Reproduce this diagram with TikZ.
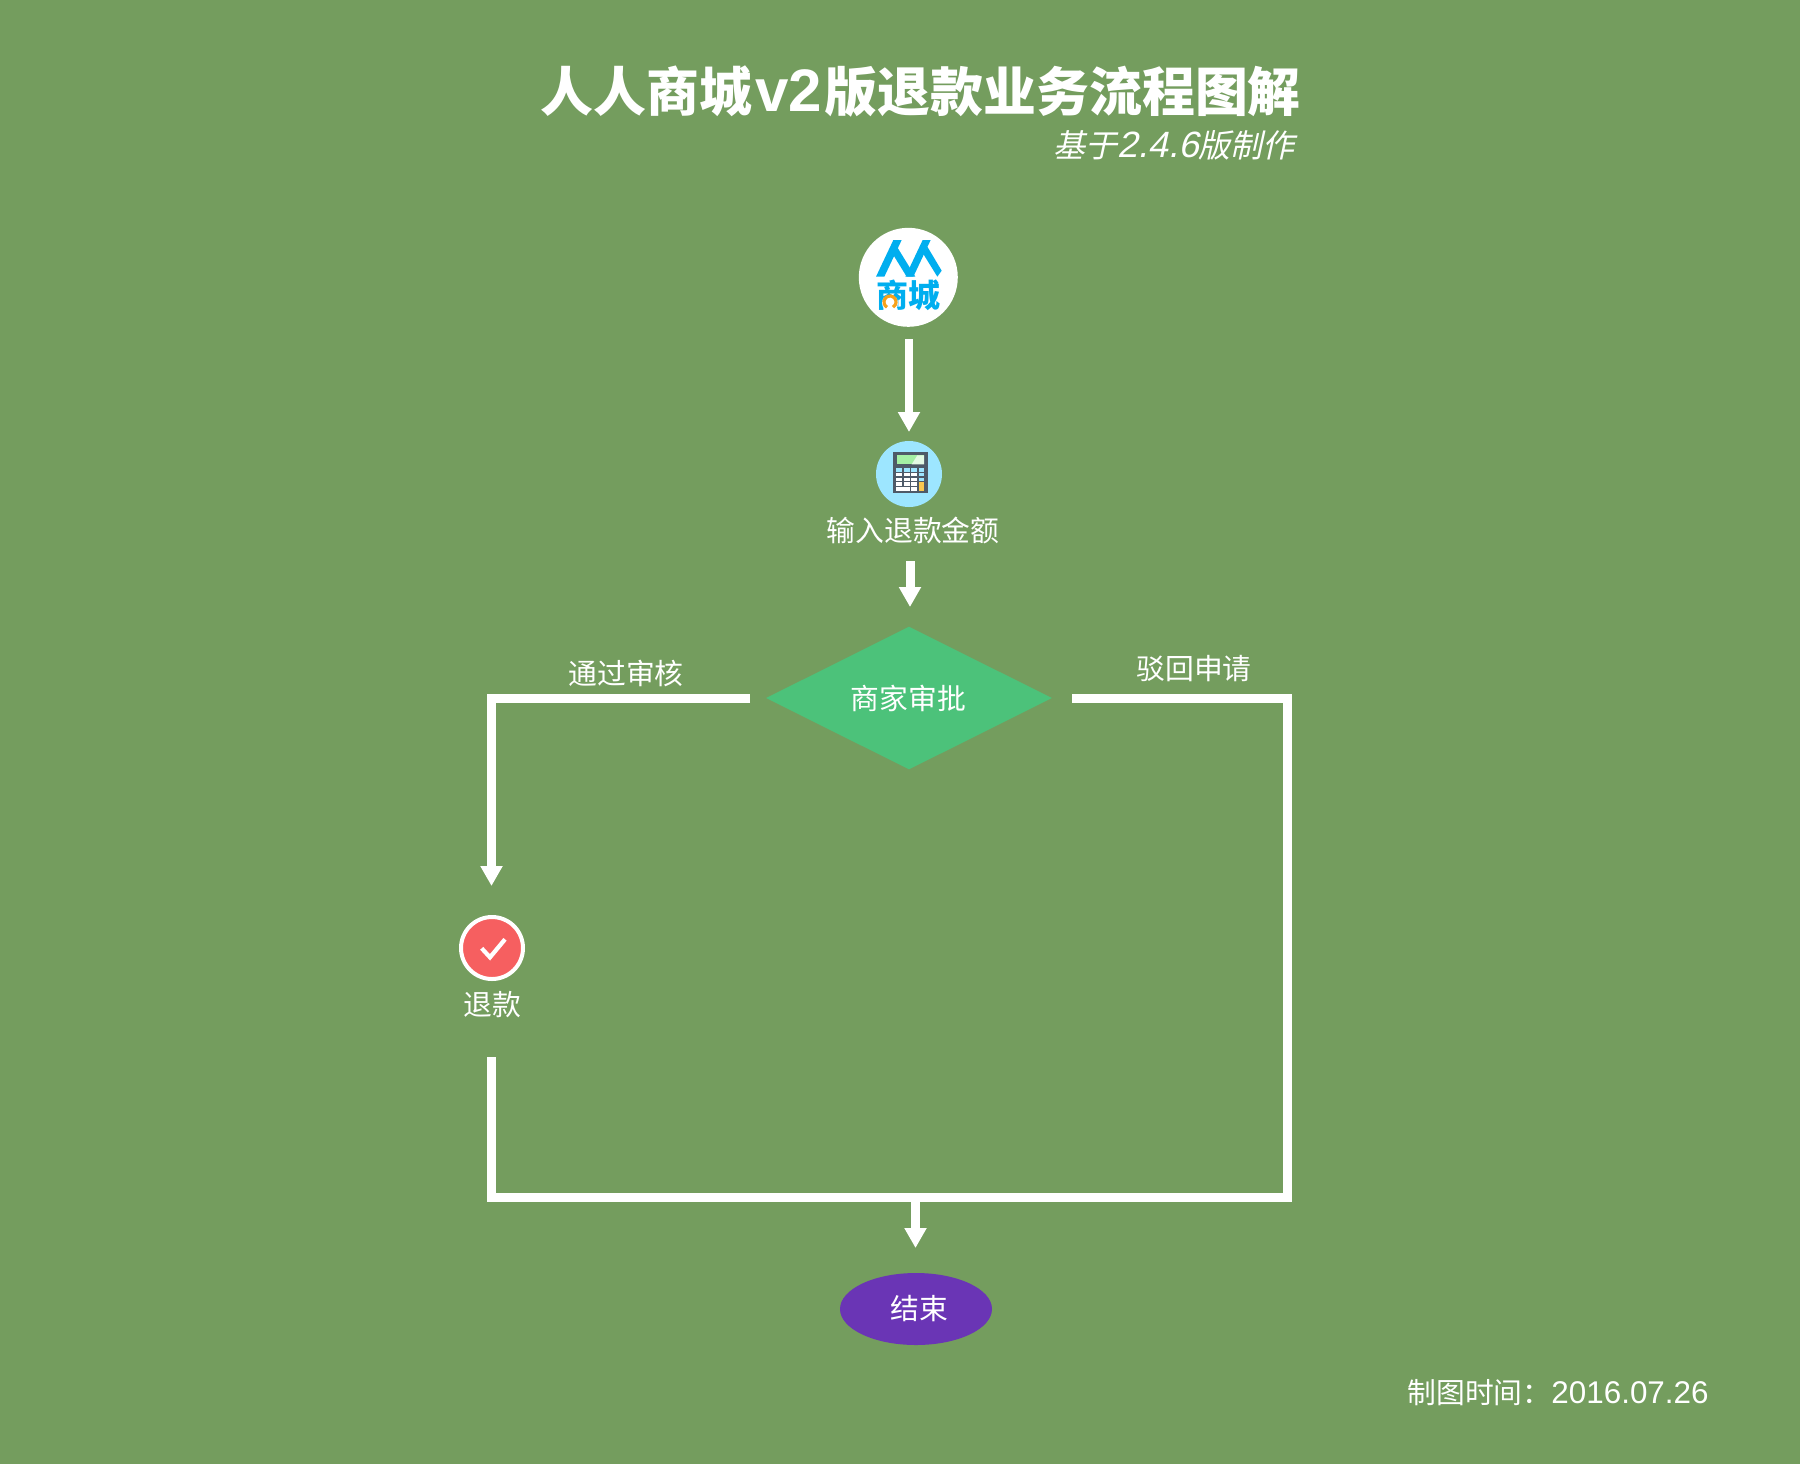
\documentclass[tikz,border=0pt]{standalone}
\usepackage{fontspec}
\setmainfont{Noto Sans CJK SC}
\newfontfamily\latfont{Liberation Sans}
\newfontfamily\slantcjk[FakeSlant=0.22]{Noto Sans CJK SC}
\newfontfamily\slantlat[FakeSlant=0.22]{Liberation Sans}
\usetikzlibrary{arrows.meta,shapes.geometric}
\definecolor{bggreen}{HTML}{749D5E}
\definecolor{diamondgreen}{HTML}{4CC27A}
\definecolor{endpurple}{HTML}{6A35B5}
\definecolor{checkred}{HTML}{F65F60}
\definecolor{logoblue}{HTML}{00AEEF}
\definecolor{logoorange}{HTML}{F7A11A}
\definecolor{calcblue}{HTML}{9DE6FF}
\definecolor{calcbody}{HTML}{4E5A68}
\definecolor{calcscreen}{HTML}{A4F0A4}
\definecolor{calcorange}{HTML}{F9C74F}
\tikzset{
  lbl/.style={inner sep=0pt,text=white,font=\fontsize{14.4}{16}\selectfont},
  flowline/.style={draw=white,line width=4.5pt,miter limit=10},
  flowarrow/.style={flowline,-{Triangle[width=10.5pt,length=10pt,sep=0pt]}},
}
\begin{document}
\begin{tikzpicture}[x=0.5pt,y=-0.5pt]
\useasboundingbox (0,0) rectangle (1800,1464);
\fill[bggreen] (0,0) rectangle (1800,1464);
% titles
\node[inner sep=0pt,anchor=west,text=white,font=\fontsize{26.45}{28}\selectfont\bfseries] (title) at (540,91) {人人商城\kern1.5pt{\fontsize{30}{32}\selectfont\latfont v2}\kern1.5pt版退款业务流程图解};
\node[inner sep=0pt,anchor=east,text=white,font=\fontsize{16}{18}\selectfont\slantcjk] (subtitle) at (1295,145) {基于{\fontsize{18.3}{20}\selectfont\slantlat 2.4.6}版制作};
% logo
\node[circle,fill=white,minimum size=49.5pt,inner sep=0pt] (logo) at (908.3,277.3) {};
\begin{scope}[shift={(840,210)},x=0.16667pt,y=-0.16667pt]
 \fill[logoblue] (160,90)--(185,90)--(133,200)--(108,200)--cycle;
 \fill[logoblue] (160,135)--(172,112)--(226,200)--(200,200)--cycle;
 \fill[logoblue] (248,90)--(272,90)--(220,200)--(196,200)--cycle;
 \fill[logoblue] (250,132)--(262,110)--(305,182)--(292,200)--cycle;
\end{scope}
\node[inner sep=0pt,text=logoblue,font=\fontsize{16}{18}\selectfont\bfseries] (logotext) at (908.5,295) {商城};
\fill[white] (890,303) circle[radius=8];
\draw[logoorange,line width=1.6pt] (887,307.2) arc[start angle=120,end angle=420,radius=6];
% calculator
\node[circle,fill=calcblue,minimum size=33pt,inner sep=0pt] (calc) at (909,474) {};
\begin{scope}[shift={(860,430)},x=0.16667pt,y=-0.16667pt]
 \fill[calcbody] (99,65) rectangle (203,190);
 \fill[calcscreen] (110,76) rectangle (192,103);
 \fill[white!70!calcscreen] (155,103)--(172,76)--(192,76)--(192,103)--cycle;
 \foreach \xa/\xb in {109/127,131/149,153/171,176/192}{
   \fill[calcblue] (\xa,115) rectangle (\xb,125);}
 \foreach \xa/\xb in {109/127,131/149,153/171}{
   \fill[white] (\xa,129) rectangle (\xb,139);
   \fill[white] (\xa,143) rectangle (\xb,154);
   \fill[white] (\xa,157) rectangle (\xb,168);}
 \fill[calcblue] (176,129) rectangle (192,139);
 \fill[calcblue] (176,143) rectangle (192,154);
 \fill[calcorange] (176,157) rectangle (192,182);
 \fill[white] (109,171) rectangle (149,182);
 \fill[white] (153,171) rectangle (171,182);
\end{scope}
\node[lbl] (amount) at (913,530) {输入退款金额};
% decision
\node[diamond,aspect=2,fill=diamondgreen,inner sep=0pt,minimum width=143pt,minimum height=71.5pt] (decide) at (909,698) {};
\node[lbl] (decidetext) at (908.5,698.5) {商家审批};
\node[lbl] (pass) at (626,673) {通过审核};
\node[lbl] (reject) at (1194,669) {驳回申请};
% refund
\node[circle,fill=checkred,draw=white,line width=2pt,minimum size=31pt,inner sep=0pt] (refund) at (492,948) {};
\draw[white,line width=2.1pt] (481.7,948.3) -- (490,957.3) -- (505,939.3);
\node[lbl] (refundtext) at (492,1005) {退款};
% end
\node[ellipse,fill=endpurple,minimum width=76pt,minimum height=36pt,inner sep=0pt] (finish) at (916,1309) {};
\node[lbl] (finishtext) at (919.5,1309) {结束};
\node[inner sep=0pt,anchor=east,text=white,font=\fontsize{14.4}{18}\selectfont] (stamp) at (1709,1393) {制图时间：{\fontsize{15.7}{18}\selectfont\latfont 2016.07.26}};
% connector ends
\coordinate (a1s) at (909,339);
\coordinate (a1e) at (909,432);
\coordinate (a2s) at (910,561);
\coordinate (a2e) at (910,607);
\coordinate (ls) at (750,698.5);
\coordinate (le) at (491.5,886);
\coordinate (rs) at (1072,698.5);
\coordinate (rc) at (1287.5,1197.5);
\coordinate (lc) at (491.5,1197.5);
\coordinate (us) at (491.5,1057);
\coordinate (ds) at (915.5,1197.5);
\coordinate (de) at (915.5,1248);
\draw[flowarrow,line width=4pt] (a1s) -- (a1e);
\draw[flowarrow] (a2s) -- (a2e);
\draw[flowarrow] (ls) -| (le);
\draw[flowline] (rs) -| (rc) -- (lc) -- (us);
\draw[flowarrow] (ds) -- (de);
\end{tikzpicture}
\end{document}
